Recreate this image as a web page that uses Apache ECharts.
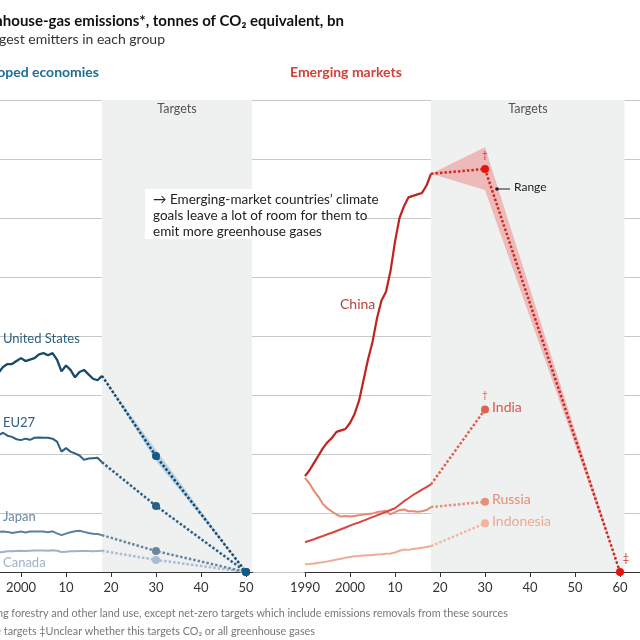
<!DOCTYPE html>
<html><head><meta charset="utf-8">
<script src="https://cdn.jsdelivr.net/npm/echarts@6/dist/echarts.min.js"></script>
<style>html,body{margin:0;padding:0;background:#fff}#c{width:640px;height:640px}</style>
</head><body><div id="c"></div>
<script>
// ---------- data ----------
const years = [];
for (let y = 1990; y <= 2018; y++) years.push(y);

const usHist = [6.4,6.35,6.45,6.55,6.65,6.75,6.95,7.05,7.05,7.15,7.25,7.15,7.2,7.25,7.38,7.42,7.35,7.42,7.2,6.8,7.0,6.85,6.6,6.78,6.85,6.7,6.55,6.5,6.65];
const euHist = [4.9,4.85,4.72,4.62,4.6,4.64,4.72,4.62,4.58,4.5,4.47,4.52,4.48,4.55,4.56,4.55,4.55,4.52,4.42,4.08,4.2,4.08,4.02,3.95,3.8,3.85,3.86,3.87,3.72];
const japanHist = [1.27,1.29,1.3,1.3,1.35,1.36,1.37,1.36,1.32,1.35,1.37,1.34,1.37,1.37,1.37,1.37,1.35,1.38,1.31,1.25,1.3,1.35,1.38,1.4,1.36,1.32,1.3,1.29,1.25];
const canadaHist = [0.6,0.6,0.62,0.63,0.65,0.66,0.68,0.7,0.7,0.71,0.72,0.71,0.72,0.73,0.73,0.73,0.72,0.74,0.72,0.68,0.69,0.7,0.7,0.71,0.71,0.71,0.7,0.71,0.72];

const chinaHist = [3.25,3.45,3.7,3.95,4.2,4.4,4.55,4.75,4.8,4.85,5.05,5.35,5.8,6.5,7.2,7.8,8.6,9.2,9.5,10.2,11.2,12.0,12.4,12.7,12.75,12.8,12.85,13.1,13.5];
const indiaHist = [1.01,1.06,1.11,1.17,1.22,1.28,1.33,1.39,1.45,1.51,1.57,1.63,1.68,1.74,1.8,1.86,1.92,1.98,2.04,2.1,2.16,2.28,2.4,2.5,2.61,2.7,2.79,2.88,2.97];
const russiaHist = [3.19,3.0,2.75,2.55,2.3,2.15,2.05,1.95,1.88,1.9,1.88,1.9,1.92,1.95,1.97,1.98,2.03,2.05,2.08,1.95,2.03,2.1,2.12,2.06,2.06,2.04,2.06,2.1,2.2];
const indonesiaHist = [0.26,0.27,0.29,0.31,0.33,0.36,0.39,0.42,0.45,0.48,0.51,0.53,0.54,0.56,0.57,0.58,0.59,0.6,0.62,0.63,0.66,0.72,0.76,0.75,0.78,0.8,0.82,0.85,0.88];

// targets: [year, value]
const usTarget = [[2030, 3.93], [2050, 0]];
const usRangeLow = [[2018, 6.65], [2030, 3.76], [2050, 0]];
const usRangeHigh = [[2018, 6.65], [2030, 4.14], [2050, 0]];
const euTarget = [[2030, 2.24], [2050, 0]];
const japanTarget = [[2030, 0.71], [2050, 0]];
const canadaTarget = [[2030, 0.41], [2050, 0]];

const chinaTarget = [[2030, 13.66], [2060, 0]];
const chinaRangeLow = [[2018, 13.5], [2030, 12.95], [2060, 0]];
const chinaRangeHigh = [[2018, 13.5], [2030, 14.4], [2060, 0]];
const indiaTarget = [[2030, 5.51]];
const russiaTarget = [[2030, 2.38]];
const indonesiaTarget = [[2030, 1.65]];

const leftTicks = [1990,2000,2010,2020,2030,2040,2050];
const rightTicks = [1990,2000,2010,2020,2030,2040,2050,2060];
const targetStart = 2018;

// ---------- helpers ----------
const pairs = (vals) => years.map((y, i) => [y, vals[i]]);
const yearLabel = (v) => (v === 1990 || v === 2000) ? String(v) : String(v % 100).padStart(2, '0');
const FONT = 'Lato';

function histSeries(name, vals, color, gi, w) {
  return { name, type: 'line', xAxisIndex: gi, yAxisIndex: gi, data: pairs(vals),
    showSymbol: false, symbol: 'none', lineStyle: { color, width: w || 2 }, z: 5, silent: true };
}
function targetSeries(name, hist, target, color, gi, dotColor) {
  const start = { value: [targetStart, hist[hist.length - 1]], symbol: 'none' };
  const data = [start].concat(target.map(p => ({ value: p, symbol: 'circle' })));
  return { name: name + ' target', type: 'line', xAxisIndex: gi, yAxisIndex: gi, data,
    symbolSize: 8, showSymbol: true, itemStyle: { color: dotColor || color, borderWidth: 0 },
    lineStyle: { color, width: 2.5, type: [2.5, 2] }, z: 6, silent: true };
}
function rangeSeries(name, low, high, color, gi) {
  const pts = low.concat(high.slice().reverse());
  return { name: name + ' range', type: 'custom', xAxisIndex: gi, yAxisIndex: gi, z: 3, silent: true,
    data: [0],
    renderItem: function (params, api) {
      return { type: 'polygon', shape: { points: pts.map(p => api.coord(p)) }, style: { fill: color } };
    } };
}

const axisLabelStyle = { color: '#333', fontSize: 13, fontFamily: FONT, margin: 9 };

const option = {
  animation: false,
  backgroundColor: '#fff',
  grid: [
    { left: 0, right: 0, top: 100, height: 472, outerBoundsMode: 'none', containLabel: false },
    { left: -24, top: 100, width: 276.75, height: 472, outerBoundsMode: 'none', containLabel: false },
    { left: 305, top: 100, width: 335.25, height: 472, outerBoundsMode: 'none', containLabel: false }
  ],
  xAxis: [
    { gridIndex: 0, type: 'value', min: 0, max: 1, show: false },
    { gridIndex: 1, type: 'value', min: 1990, max: 2051.5, interval: 10,
      axisLine: { show: true, lineStyle: { color: '#333', width: 1 } },
      axisTick: { show: true, length: 5, lineStyle: { color: '#333' }, customValues: leftTicks },
      axisLabel: Object.assign({ customValues: leftTicks, formatter: yearLabel }, axisLabelStyle),
      splitLine: { show: false } },
    { gridIndex: 2, type: 'value', min: 1990, max: 2064.5, interval: 10,
      axisLine: { show: true, lineStyle: { color: '#333', width: 1 } },
      axisTick: { show: true, length: 5, lineStyle: { color: '#333' }, customValues: rightTicks },
      axisLabel: Object.assign({ customValues: rightTicks, formatter: yearLabel }, axisLabelStyle),
      splitLine: { show: false } }
  ],
  yAxis: [
    { gridIndex: 0, type: 'value', min: 0, max: 16, interval: 2,
      axisLine: { show: false }, axisTick: { show: false }, axisLabel: { show: false },
      splitLine: { show: true, lineStyle: { color: '#c8c8c8', width: 1 } } },
    { gridIndex: 1, type: 'value', min: 0, max: 16, interval: 2, show: false, splitLine: { show: false } },
    { gridIndex: 2, type: 'value', min: 0, max: 16, interval: 2, show: false, splitLine: { show: false } }
  ],
  series: [
    { name: 'bandL', type: 'line', xAxisIndex: 1, yAxisIndex: 1, data: [], z: -5, silent: true,
      markArea: { silent: true, itemStyle: { color: '#eff0f0' },
        data: [[{ coord: [targetStart, 0] }, { coord: [2051.3, 16] }]] } },
    { name: 'bandR', type: 'line', xAxisIndex: 2, yAxisIndex: 2, data: [], z: -5, silent: true,
      markArea: { silent: true, itemStyle: { color: '#eff0f0' },
        data: [[{ coord: [targetStart, 0] }, { coord: [2061, 16] }]] } },

    rangeSeries('US', usRangeLow, usRangeHigh, 'rgba(130,180,220,0.5)', 1),
    rangeSeries('China', chinaRangeLow, chinaRangeHigh, 'rgba(238,130,130,0.5)', 2),

    histSeries('Canada', canadaHist, '#9db3c8', 1),
    histSeries('Japan', japanHist, '#5f7f9c', 1),
    histSeries('EU27', euHist, '#2c5f84', 1),
    histSeries('United States', usHist, '#174a6c', 1, 2.3),
    targetSeries('Canada', canadaHist, canadaTarget, '#a9bdd0', 1),
    targetSeries('Japan', japanHist, japanTarget, '#6686a2', 1),
    targetSeries('EU27', euHist, euTarget, '#2c5f84', 1),
    targetSeries('United States', usHist, usTarget, '#174a6c', 1, '#145a85'),

    histSeries('Indonesia', indonesiaHist, '#efac94', 2),
    histSeries('Russia', russiaHist, '#e58b74', 2),
    histSeries('India', indiaHist, '#d6483d', 2),
    histSeries('China', chinaHist, '#c2221c', 2, 2.2),
    targetSeries('Indonesia', indonesiaHist, indonesiaTarget, '#f2b49c', 2),
    targetSeries('Russia', russiaHist, russiaTarget, '#e88f78', 2),
    targetSeries('India', indiaHist, indiaTarget, '#e2604f', 2),
    targetSeries('China', chinaHist, chinaTarget, '#cc2a22', 2, '#e3120b')
  ],
  graphic: [
    { type: 'text', z: 100, x: 344, y: 14, style: { text: 'Greenhouse-gas emissions*, tonnes of CO\u2082 equivalent, bn', align: 'right', fill: '#111', font: 'bold 15px ' + FONT } },
    { type: 'text', z: 100, x: 165, y: 32, style: { text: 'Ten largest emitters in each group', align: 'right', fill: '#333', font: '14px ' + FONT } },
    { type: 'text', z: 100, x: 99, y: 65, style: { text: 'Developed economies', align: 'right', fill: '#1f6d96', font: 'bold 14px ' + FONT } },
    { type: 'text', z: 100, x: 290, y: 65, style: { text: 'Emerging markets', align: 'left', fill: '#d1403b', font: 'bold 14px ' + FONT } },
    { type: 'text', z: 100, x: 177, y: 102, style: { text: 'Targets', align: 'center', fill: '#555', font: '12.5px ' + FONT } },
    { type: 'text', z: 100, x: 528, y: 102, style: { text: 'Targets', align: 'center', fill: '#555', font: '12.5px ' + FONT } },
    { type: 'rect', z: 99, shape: { x: 145, y: 189, width: 220, height: 50 }, style: { fill: '#fff' } },
    { type: 'text', z: 100, x: 153, y: 191, style: { text: '\u2192 Emerging-market countries\u2019 climate\ngoals leave a lot of room for them to\nemit more greenhouse gases', fill: '#222', font: '13.5px ' + FONT, lineHeight: 16.3 } },
    { type: 'text', z: 100, x: 3, y: 332, style: { text: 'United States', fill: '#2a5e80', font: '13px ' + FONT } },
    { type: 'text', z: 100, x: 3, y: 416, style: { text: 'EU27', fill: '#2c5f84', font: '13px ' + FONT } },
    { type: 'text', z: 100, x: 3, y: 510, style: { text: 'Japan', fill: '#6686a2', font: '13px ' + FONT } },
    { type: 'text', z: 100, x: 3, y: 556, style: { text: 'Canada', fill: '#9db3c8', font: '13px ' + FONT } },
    { type: 'text', z: 100, x: 340, y: 297, style: { text: 'China', fill: '#b84040', font: '14px ' + FONT } },
    { type: 'text', z: 100, x: 492, y: 400, style: { text: 'India', fill: '#d9574a', font: '14px ' + FONT } },
    { type: 'text', z: 100, x: 492, y: 492, style: { text: 'Russia', fill: '#e58b74', font: '14px ' + FONT } },
    { type: 'text', z: 100, x: 492, y: 514, style: { text: 'Indonesia', fill: '#efa78f', font: '14px ' + FONT } },
    { type: 'text', z: 100, x: 485, y: 150, style: { text: '\u2020', align: 'center', fill: '#cc3a33', font: '10px ' + FONT } },
    { type: 'text', z: 100, x: 485, y: 390, style: { text: '\u2020', align: 'center', fill: '#e2604f', font: '10px ' + FONT } },
    { type: 'text', z: 100, x: 626, y: 553, style: { text: '\u2021', align: 'center', fill: '#cc3a33', font: '11px ' + FONT } },
    { type: 'line', z: 100, shape: { x1: 497, y1: 189, x2: 510, y2: 189 }, style: { stroke: '#222', lineWidth: 1 } },
    { type: 'circle', z: 100, shape: { cx: 497, cy: 189, r: 1.8 }, style: { fill: '#222' } },
    { type: 'text', z: 100, x: 514, y: 181, style: { text: 'Range', fill: '#222', font: '12px ' + FONT } },
    { type: 'text', z: 100, x: 508, y: 608, style: { text: '*Excluding forestry and other land use, except net-zero targets which include emissions removals from these sources', align: 'right', fill: '#777', font: '10.8px ' + FONT } },
    { type: 'text', z: 100, x: 315, y: 626, style: { text: '\u2020Range targets \u2021Unclear whether this targets CO\u2082 or all greenhouse gases', align: 'right', fill: '#777', font: '10.8px ' + FONT } }
  ]
};

const chart = echarts.init(document.getElementById('c'), null, { renderer: 'canvas' });
chart.setOption(option);
</script>
</body></html>
